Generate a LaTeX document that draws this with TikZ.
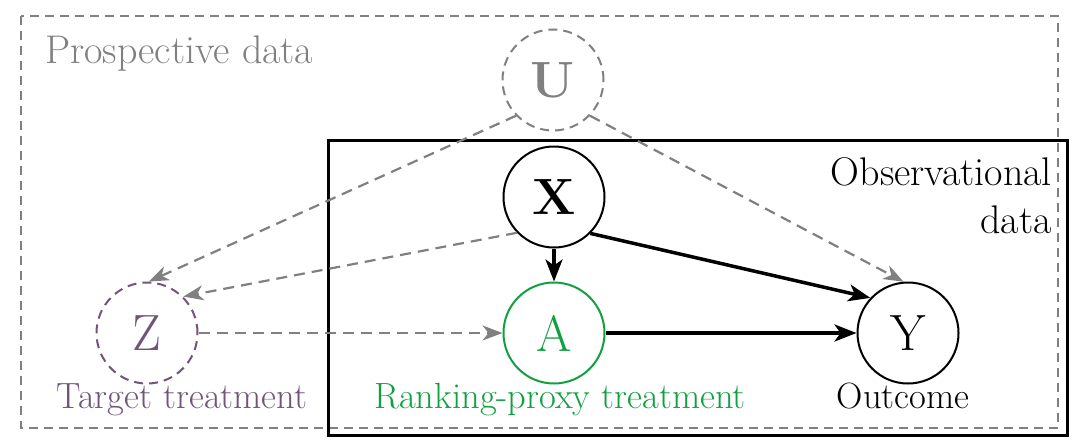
\documentclass[tikz,border=0pt]{standalone}
\usetikzlibrary{arrows.meta}
\definecolor{dgray}{RGB}{128,128,128}
\definecolor{zpurple}{RGB}{112,84,122}
\definecolor{agreen}{RGB}{16,160,64}
\tikzset{
  var/.style={circle, draw, line width=2pt, minimum size=101pt, inner sep=0pt,
    font=\fontsize{51}{51}\selectfont},
  latentvar/.style={var, draw=dgray, dash pattern=on 9pt off 6pt},
  dasharrow/.style={draw=dgray, line width=2.2pt, dash pattern=on 11pt off 7pt,
    -{Stealth[length=20pt,width=15pt,inset=6pt]}},
  solidarrow/.style={line width=3.5pt, -{Stealth[length=22pt,width=17pt,inset=6pt]}},
  lbl/.style={font=\fontsize{36.5}{36.5}\selectfont, inner sep=0pt},
  boxtitle/.style={font=\fontsize{40}{48}\selectfont, inner sep=0pt}
}
\begin{document}
\begin{tikzpicture}[x=1pt,y=-1pt]
  \useasboundingbox (0,0) rectangle (1083,439);
  % outer dashed frame and inner solid frame
  \draw[dgray, line width=2pt, dash pattern=on 9pt off 6pt] (21,16) rectangle (1058,428);
  \draw[black, line width=3pt] (328,140) rectangle (1067,435);
  \node[boxtitle, text=dgray, anchor=base west] (prosp) at (45,63) {Prospective data};
  \node[boxtitle, anchor=base east] (obs1) at (1052,185) {Observational};
  \node[boxtitle, anchor=base east] (obs2) at (1052,233) {data};

  % variables
  \node[latentvar, text=dgray, font=\fontsize{51}{51}\selectfont\bfseries] (U) at (553,80) {U};
  \node[var] (X) at (554,197) {\textbf{X}};
  \node[var, draw=agreen, text=agreen] (A) at (554,333) {A};
  \node[var] (Y) at (908,333) {Y};
  \node[latentvar, draw=zpurple, text=zpurple] (Z) at (147,333) {Z};

  % labels under the variables
  \node[lbl, text=zpurple, anchor=base] (zl) at (182,408) {Target treatment};
  \node[lbl, text=agreen, anchor=base] (al) at (560,408) {Ranking-proxy treatment};
  \node[lbl, anchor=base] (yl) at (903,408) {Outcome};

  % edges
  \draw[dasharrow] (U.-136) -- (Z.88);
  \draw[dasharrow] (X.-136) -- (Z.45);
  \draw[dasharrow] (U.-44) -- (Y.95);
  \draw[dasharrow] (Z) -- (A);
  \draw[solidarrow] (X) -- (A);
  \draw[solidarrow] (X.-45) -- (Y.137);
  \draw[solidarrow] (A) -- (Y);
\end{tikzpicture}
\end{document}
